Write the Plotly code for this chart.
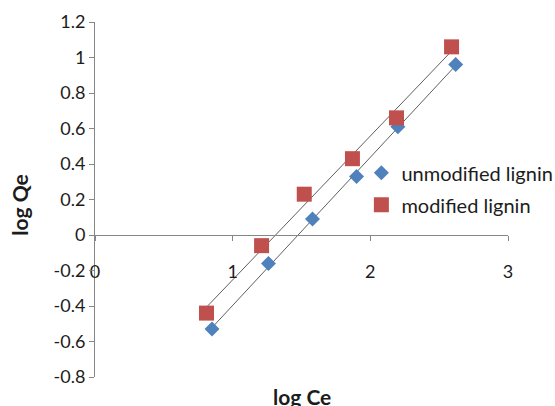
import numpy as np
import plotly.graph_objects as go

# Freundlich isotherm data (log-log form)
log_ce_unmod = [0.85, 1.26, 1.58, 1.90, 2.20, 2.62]
log_qe_unmod = [-0.53, -0.16, 0.09, 0.33, 0.61, 0.96]

log_ce_mod = [0.81, 1.21, 1.52, 1.87, 2.19, 2.59]
log_qe_mod = [-0.44, -0.06, 0.23, 0.43, 0.66, 1.06]

series_names = ["unmodified lignin", "modified lignin"]

x_ticks = [0, 1, 2, 3]
y_ticks = [-0.8, -0.6, -0.4, -0.2, 0, 0.2, 0.4, 0.6, 0.8, 1, 1.2]
y_tick_text = ["-0.8", "-0.6", "-0.4", "-0.2", "0", "0.2", "0.4", "0.6", "0.8", "1", "1.2"]

FONT = "Lato, Carlito, Calibri, sans-serif"
TEXT = "#1c1c1c"
AXIS_GREY = "#868686"
TREND_GREY = "#5f5f5f"

fig = go.Figure()


def add_series(xs, ys, name, color, symbol, size, group):
    # least-squares trendline over the data range
    slope, intercept = np.polyfit(xs, ys, 1)
    tx = np.array([min(xs), max(xs)])
    fig.add_trace(go.Scatter(
        x=tx, y=slope * tx + intercept, mode="lines",
        line=dict(color=TREND_GREY, width=1), showlegend=False,
        hoverinfo="skip",
    ))
    fig.add_trace(go.Scatter(
        x=xs, y=ys, mode="markers", name=name, legendgroup=group,
        marker=dict(color=color, symbol=symbol, size=size, line=dict(width=0)),
    ))


add_series(log_ce_unmod, log_qe_unmod, series_names[0], "#4F81BD", "diamond", 11.5, "a")
add_series(log_ce_mod, log_qe_mod, series_names[1], "#C0504D", "square", 15, "b")

fig.update_layout(
    width=555, height=406,
    margin=dict(l=95, r=47, t=22, b=29, autoexpand=False),
    paper_bgcolor="white", plot_bgcolor="white",
    font=dict(family=FONT, size=18, color=TEXT),
    showlegend=True,
    legend=dict(
        x=0.645, xanchor="left", y=0.63, yanchor="top",
        bgcolor="rgba(0,0,0,0)", tracegroupgap=3,
        font=dict(family=FONT, size=20, color=TEXT),
    ),
    xaxis=dict(
        range=[0, 3], tickvals=x_ticks, showgrid=False, zeroline=False,
        showline=True, linecolor=AXIS_GREY, linewidth=1,
        ticks="outside", ticklen=5, tickcolor=AXIS_GREY,
        anchor="free", position=0.4, ticklabelstandoff=15,
        tickfont=dict(size=18, color=TEXT),
    ),
    yaxis=dict(
        range=[-0.8, 1.2], tickvals=y_ticks, ticktext=y_tick_text,
        showgrid=False, zeroline=False,
        showline=True, linecolor=AXIS_GREY, linewidth=1,
        ticks="outside", ticklen=5, tickcolor=AXIS_GREY,
        tickfont=dict(size=18, color=TEXT),
    ),
    annotations=[
        dict(text="<b>log Qe</b>", xref="paper", yref="paper",
             x=-0.182, y=0.485, textangle=-90, showarrow=False,
             xanchor="center", yanchor="middle",
             font=dict(family=FONT, size=21, color=TEXT)),
        dict(text="<b>log Ce</b>", xref="paper", yref="paper",
             x=0.5, y=-0.055, showarrow=False,
             xanchor="center", yanchor="middle",
             font=dict(family=FONT, size=21, color=TEXT)),
    ],
)

fig.write_html("out.html")
